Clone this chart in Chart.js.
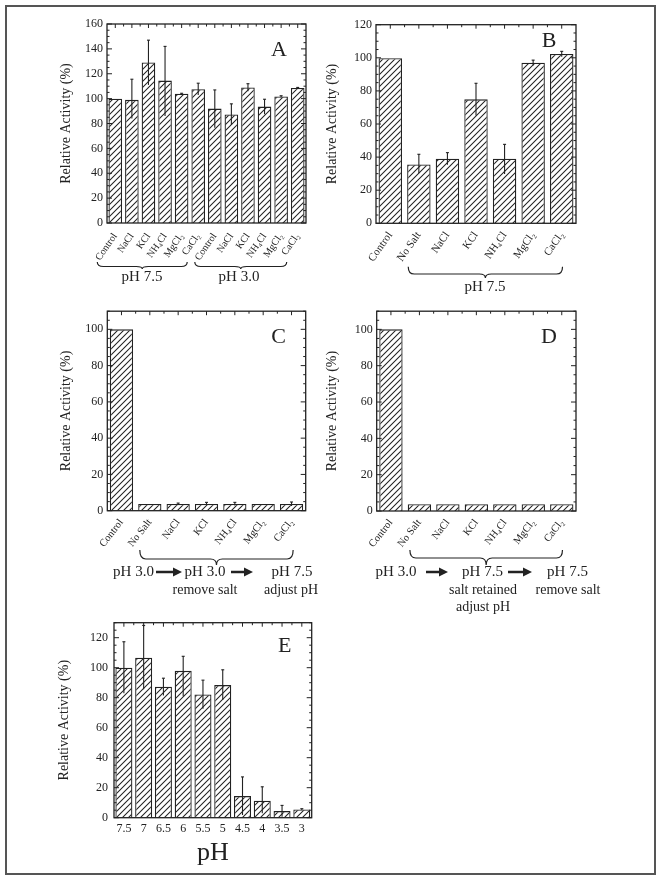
<!DOCTYPE html>
<html>
<head>
<meta charset="utf-8">
<script src="https://cdn.jsdelivr.net/npm/chart.js@4.4.0/dist/chart.umd.min.js"></script>
<style>
  html, body { margin: 0; padding: 0; background: #fff; }
  body { width: 662px; height: 881px; position: relative; overflow: hidden; }
  #frame { position: absolute; left: 5px; top: 5px; width: 651px; height: 870px; border: 2px solid #555; box-sizing: border-box; }
  canvas { position: absolute; }
</style>
</head>
<body>
<div id="frame"></div>
<canvas id="cA" width="278" height="290" style="left:40px;top:10px"></canvas>
<canvas id="cB" width="340" height="290" style="left:318px;top:10px"></canvas>
<canvas id="cC" width="278" height="300" style="left:40px;top:300px"></canvas>
<canvas id="cD" width="340" height="320" style="left:318px;top:300px"></canvas>
<canvas id="cE" width="278" height="275" style="left:40px;top:600px"></canvas>
<script>
// ---- data ----
var saltsA = ['Control', 'NaCl', 'KCl', 'NH₄Cl', 'MgCl₂', 'CaCl₂', 'Control', 'NaCl', 'KCl', 'NH₄Cl', 'MgCl₂', 'CaCl₂'];
var valuesA = [100, 99, 129, 114.5, 104, 107.6, 92, 87.2, 109, 93.6, 101.7, 108.6];
var hiA = [100, 115.6, 147, 142, 104.3, 112.4, 107, 95.8, 112, 99.5, 102.3, 109];
var loA = [100, 84, 111, 86, 103.7, 103, 76.5, 78.7, 106, 87.5, 101.1, 108.2];

var saltsB = ['Control', 'No Salt', 'NaCl', 'KCl', 'NH₄Cl', 'MgCl₂', 'CaCl₂'];
var valuesB = [99.7, 35.6, 39, 74.9, 39, 97, 102.3];
var hiB = [99.7, 41.7, 42.7, 84.6, 47.7, 98.6, 103.9];
var loB = [99.7, 30.2, 35.4, 65.2, 29.8, 95.4, 100.7];

var valuesC = [100, 3.7, 3.7, 3.7, 3.7, 3.7, 3.7];
var hiC = [100, 3.7, 4.2, 4.6, 4.6, 3.7, 4.8];
var loC = [100, 3.7, 3.2, 2.8, 2.8, 3.7, 2.6];

var valuesD = [100, 3.7, 3.7, 3.7, 3.7, 3.7, 3.7];

var pHs = ['7.5', '7', '6.5', '6', '5.5', '5', '4.5', '4', '3.5', '3'];
var valuesE = [100, 106.7, 87.3, 97.9, 82.2, 88.4, 14.4, 11.3, 4.4, 5.5];
var hiE = [117.3, 128.2, 93, 107.6, 91.7, 98.6, 27.2, 20.6, 8.2, 6];
var loE = [82.9, 85.7, 81.5, 81, 72.7, 78.5, 1.8, 2.9, 0.7, 5.2];

var serif = '"Liberation Serif", "DejaVu Serif", serif';
var ink = '#222';

// diagonal hatch fill
function hatch() {
  var c = document.createElement('canvas');
  c.width = 6; c.height = 6;
  var g = c.getContext('2d');
  g.fillStyle = '#fff';
  g.fillRect(0, 0, 6, 6);
  g.strokeStyle = '#222';
  g.lineWidth = 1.05;
  g.beginPath();
  g.moveTo(0, 6); g.lineTo(6, 0);
  g.moveTo(-1, 1); g.lineTo(1, -1);
  g.moveTo(5, 7); g.lineTo(7, 5);
  g.stroke();
  return g.createPattern(c, 'repeat');
}

function seg(ctx, x1, y1, x2, y2) {
  ctx.beginPath(); ctx.moveTo(x1, y1); ctx.lineTo(x2, y2); ctx.stroke();
}

function brace(ctx, x1, x2, top, mid, tip) {
  var xm = (x1 + x2) / 2, r = 6;
  ctx.beginPath();
  ctx.moveTo(x1, top);
  ctx.quadraticCurveTo(x1, mid, x1 + r, mid);
  ctx.lineTo(xm - r, mid);
  ctx.quadraticCurveTo(xm, mid, xm, tip);
  ctx.quadraticCurveTo(xm, mid, xm + r, mid);
  ctx.lineTo(x2 - r, mid);
  ctx.quadraticCurveTo(x2, mid, x2, top);
  ctx.stroke();
}

function arrow(ctx, x1, x2, y) {
  ctx.lineWidth = 2.5;
  seg(ctx, x1, y, x2 - 7, y);
  ctx.beginPath();
  ctx.moveTo(x2, y); ctx.lineTo(x2 - 9, y - 4.5); ctx.lineTo(x2 - 9, y + 4.5);
  ctx.closePath(); ctx.fill();
}

var framePlugin = {
  id: 'frame',
  afterDatasetsDraw: function(chart, args, o) {
    var ctx = chart.ctx, x = chart.scales.x, y = chart.scales.y;
    if (!o.hi) return;
    ctx.save();
    ctx.strokeStyle = ink; ctx.lineWidth = 1.1;
    o.hi.forEach(function(h, i) {
      if (h === o.lo[i]) return;
      var px = x.getPixelForValue(i);
      seg(ctx, px, y.getPixelForValue(o.lo[i]), px, y.getPixelForValue(h));
      seg(ctx, px - 1.5, y.getPixelForValue(h), px + 1.5, y.getPixelForValue(h));
    });
    ctx.restore();
  },
  afterDraw: function(chart, args, o) {
    var ctx = chart.ctx, a = chart.chartArea, x = chart.scales.x, y = chart.scales.y;
    ctx.save();
    ctx.strokeStyle = ink; ctx.fillStyle = ink; ctx.lineWidth = 1.3;
    ctx.strokeRect(a.left, a.top, a.right - a.left, a.bottom - a.top);
    ctx.lineWidth = 1;
    var step = o.step, minor = step / 4;
    for (var v = 0; v <= y.max + 1e-6; v += minor) {
      var py = y.getPixelForValue(v);
      var len = Math.abs(v / step - Math.round(v / step)) < 1e-6 ? 5 : 2.5;
      seg(ctx, a.left, py, a.left + len, py);
      seg(ctx, a.right, py, a.right - len, py);
    }
    var n = chart.data.labels.length;
    for (var i = 0; i < n; i++) {
      var px = x.getPixelForValue(i);
      seg(ctx, px, a.top, px, a.top + 4);
      var pb = x.getPixelForValue(i + 0.5);
      if (i < n - 1) seg(ctx, pb, a.top, pb, a.top + 2.5);
    }
    ctx.font = '22px ' + serif;
    ctx.textAlign = 'center'; ctx.textBaseline = 'middle';
    ctx.fillText(o.letter, a.right - 27, a.top + o.ly);

    ctx.lineWidth = 1.2;
    (o.braces || []).forEach(function(b) {
      brace(ctx, x.getPixelForValue(b.i0) + b.d0, x.getPixelForValue(b.i1) + b.d1, b.top, b.mid, b.tip);
    });
    (o.arrows || []).forEach(function(r) { arrow(ctx, r[0], r[1], r[2]); });
    (o.notes || []).forEach(function(t) {
      ctx.font = (t.size || 15) + 'px ' + serif;
      ctx.fillText(t.text, t.x, t.y);
    });
    ctx.restore();
  }
};

function makeChart(id, c) {
  return new Chart(document.getElementById(id), {
    type: 'bar',
    data: {
      labels: c.labels,
      datasets: [{
        data: c.values,
        backgroundColor: hatch(),
        borderColor: ink,
        borderWidth: 1.3,
        barPercentage: c.bar,
        categoryPercentage: 1
      }]
    },
    options: {
      responsive: false,
      animation: false,
      layout: { padding: c.pad },
      plugins: {
        legend: { display: false },
        tooltip: { enabled: false },
        frame: c.frame
      },
      scales: {
        x: {
          grid: { display: false, drawTicks: false },
          border: { display: false },
          ticks: {
            color: ink, autoSkip: false,
            font: { family: serif, size: c.xFont },
            minRotation: c.rot, maxRotation: c.rot,
            padding: c.xPad
          },
          title: c.xTitle ? { display: true, text: c.xTitle, color: ink, font: { family: serif, size: 26 }, padding: { top: 0, bottom: 4 } } : { display: false },
          afterFit: function(s) { s.height = c.xh; }
        },
        y: {
          min: 0, max: c.max,
          grid: { display: false, drawTicks: false },
          border: { display: false },
          ticks: { stepSize: c.step, color: ink, font: { family: serif, size: 12 }, padding: c.yPad || 4 },
          title: { display: true, text: 'Relative Activity (%)', color: ink, font: { family: serif, size: 14 } },
          afterBuildTicks: function(s) {
            s.ticks = s.ticks.filter(function(t) { return t.value % c.step === 0; });
          },
          afterFit: function(s) { s.width = c.yw; }
        }
      }
    },
    plugins: [framePlugin]
  });
}

var groupLabels = ['Control', 'No Salt', 'NaCl', 'KCl', 'NH₄Cl', 'MgCl₂', 'CaCl₂'];

makeChart('cA', {
  labels: saltsA, values: valuesA, bar: 0.82, max: 160, step: 20,
  pad: { left: 14, top: 14, right: 12, bottom: 0 }, yw: 53, xh: 77,
  xFont: 10, rot: 55, xPad: 8,
  frame: {
    letter: 'A', ly: 26, step: 20, hi: hiA, lo: loA,
    braces: [
      { i0: 0, i1: 5, d0: -18, d1: -11, top: 252, mid: 256.5, tip: 259 },
      { i0: 6, i1: 11, d0: -20, d1: -11, top: 252, mid: 256.5, tip: 259 }
    ],
    notes: [{ text: 'pH 7.5', x: 102, y: 267 }, { text: 'pH 3.0', x: 199, y: 267 }]
  }
});

makeChart('cB', {
  labels: saltsB, values: valuesB, bar: 0.82, max: 120, step: 20,
  pad: { left: 2, top: 14.7, right: 82, bottom: 0 }, yw: 56, xh: 76.7,
  xFont: 11, rot: 55, xPad: 6,
  frame: {
    letter: 'B', ly: 17, step: 20, hi: hiB, lo: loB,
    braces: [{ i0: 1, i1: 6, d0: -10.6, d1: 0.8, top: 256.7, mid: 264, tip: 268 }],
    notes: [{ text: 'pH 7.5', x: 167, y: 277 }]
  }
});

makeChart('cC', {
  labels: groupLabels, values: valuesC, bar: 0.82, max: 110, step: 20,
  pad: { left: 14, top: 11, right: 12.3, bottom: 0 }, yw: 53.3, xh: 89.3,
  xFont: 10.5, rot: 52, xPad: 6,
  frame: {
    letter: 'C', ly: 26, step: 20, hi: hiC, lo: loC,
    braces: [{ i0: 1, i1: 6, d0: -10, d1: 1.6, top: 250, mid: 259, tip: 265 }],
    arrows: [[116, 142, 272], [191, 213, 272]],
    notes: [
      { text: 'pH 3.0', x: 93.5, y: 272 }, { text: 'pH 3.0', x: 165, y: 272 }, { text: 'pH 7.5', x: 252, y: 272 },
      { text: 'remove salt', x: 165, y: 290, size: 14 }, { text: 'adjust pH', x: 251, y: 290, size: 14 }
    ]
  }
});

makeChart('cD', {
  labels: groupLabels, values: valuesD, bar: 0.82, max: 110, step: 20,
  pad: { left: 2, top: 11, right: 82, bottom: 0 }, yw: 56.7, xh: 109,
  xFont: 10.5, rot: 52, xPad: 6,
  frame: {
    letter: 'D', ly: 26, step: 20,
    braces: [{ i0: 1, i1: 6, d0: -9.5, d1: 0.7, top: 250, mid: 258, tip: 265 }],
    arrows: [[108, 130, 272], [190, 214, 272]],
    notes: [
      { text: 'pH 3.0', x: 78, y: 272 }, { text: 'pH 7.5', x: 164.5, y: 272 }, { text: 'pH 7.5', x: 249.5, y: 272 },
      { text: 'salt retained', x: 165, y: 290, size: 14 }, { text: 'remove salt', x: 250, y: 290, size: 14 },
      { text: 'adjust pH', x: 165, y: 307, size: 14 }
    ]
  }
});

makeChart('cE', {
  labels: pHs, values: valuesE, bar: 0.86, max: 130, step: 20,
  pad: { left: 12.2, top: 22.7, right: 6.3, bottom: 2.4 }, yw: 61.8, xh: 54.9,
  xFont: 12, rot: 0, xPad: 4, xTitle: 'pH', yPad: 6,
  frame: { letter: 'E', ly: 24, step: 20, hi: hiE, lo: loE }
});
</script>
</body>
</html>
